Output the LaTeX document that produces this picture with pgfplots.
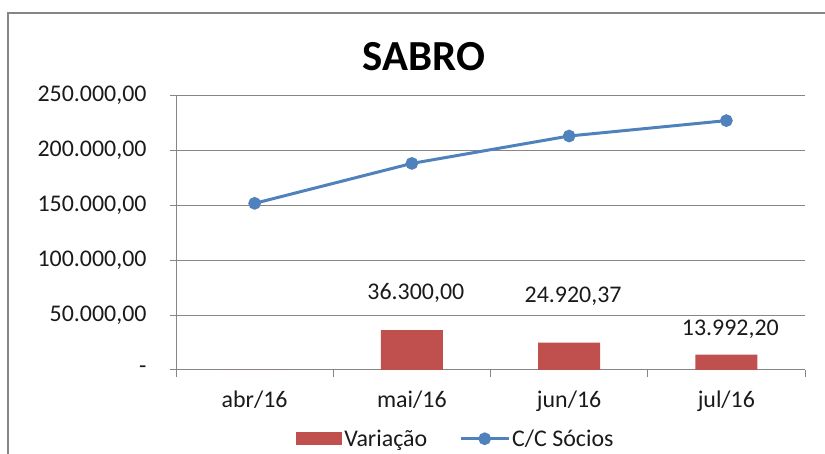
\documentclass[border=0pt]{standalone}
\usepackage{fontspec}
\setmainfont{Carlito}
\usepackage{pgfplots}
\pgfplotsset{compat=1.18}
\definecolor{barred}{HTML}{C0504D}
\definecolor{lineblue}{HTML}{4F81BD}
\definecolor{gridgray}{HTML}{868686}
\definecolor{txt}{HTML}{1A1A1A}
\pgfplotsset{
  barlegend/.style={legend image code/.code={\fill[barred] (0bp,-6.5bp) rectangle (46bp,6.5bp);}},
  linelegend/.style={legend image code/.code={\draw[mark repeat=2,mark phase=2,##1] plot coordinates {(0bp,0bp) (24bp,0bp) (48bp,0bp)};}},
}
\begin{document}
\begin{tikzpicture}
\useasboundingbox (0bp,0bp) rectangle (825bp,454bp);
\draw[gridgray, line width=2bp] (8bp,0bp) -- (8bp,441bp) -- (825bp,441bp);
\node[font=\fontsize{43}{50}\selectfont\bfseries, text=black] at (424bp,397bp) {SABRO};
\begin{axis}[
  at={(176bp,84bp)}, anchor=south west,
  scale only axis, width=629bp, height=275bp,
  xmin=-0.5, xmax=3.5, ymin=0, ymax=250000,
  axis x line*=bottom, axis y line*=left,
  axis line style={gridgray, line width=1bp},
  ytick={0,50000,100000,150000,200000,250000},
  yticklabels={{-},{50.000,00},{100.000,00},{150.000,00},{200.000,00},{250.000,00}},
  scaled y ticks=false,
  ymajorgrids, grid style={gridgray, line width=1bp},
  xtick={0,1,2,3}, xticklabels={abr/16,mai/16,jun/16,jul/16},
  minor xtick={-0.5,0.5,1.5,2.5,3.5},
  tick align=outside,
  major tick length=6bp, minor tick length=7bp,
  major x tick style={draw=none},
  minor x tick style={gridgray, line width=1bp},
  major y tick style={gridgray, line width=1bp},
  ticklabel style={font=\fontsize{24}{28}\selectfont, text=txt},
  xticklabel style={yshift=-11bp},
  yticklabel style={xshift=-20bp},
  legend style={at={(0.445,-0.25)}, anchor=center, draw=none, fill=none,
    font=\fontsize{24}{28}\selectfont, text=txt, legend columns=2,
    /tikz/every even column/.append style={column sep=30bp}},
  clip=false,
]
\addplot[fill=barred, draw=none, ybar, bar width=62bp, barlegend]
  coordinates {(0,0) (1,36300) (2,24920.37) (3,13992.20)};
\addlegendentry{Variação}
\addplot[lineblue, line width=3bp, mark=*, mark size=4.8bp,
  mark options={fill=lineblue, draw=lineblue}, linelegend]
  coordinates {(0,151500) (1,187800) (2,212720) (3,226712)};
\addlegendentry{C/C Sócios}
\addplot[draw=none, mark=none, forget plot, nodes near coords, point meta=explicit symbolic,
  every node near coord/.style={font=\fontsize{24}{28}\selectfont, text=txt, anchor=center, xshift=4bp}]
  coordinates {(1,70000) [36.300,00] (2,67300) [24.920,37] (3,37300) [13.992,20]};
\end{axis}
\end{tikzpicture}
\end{document}
